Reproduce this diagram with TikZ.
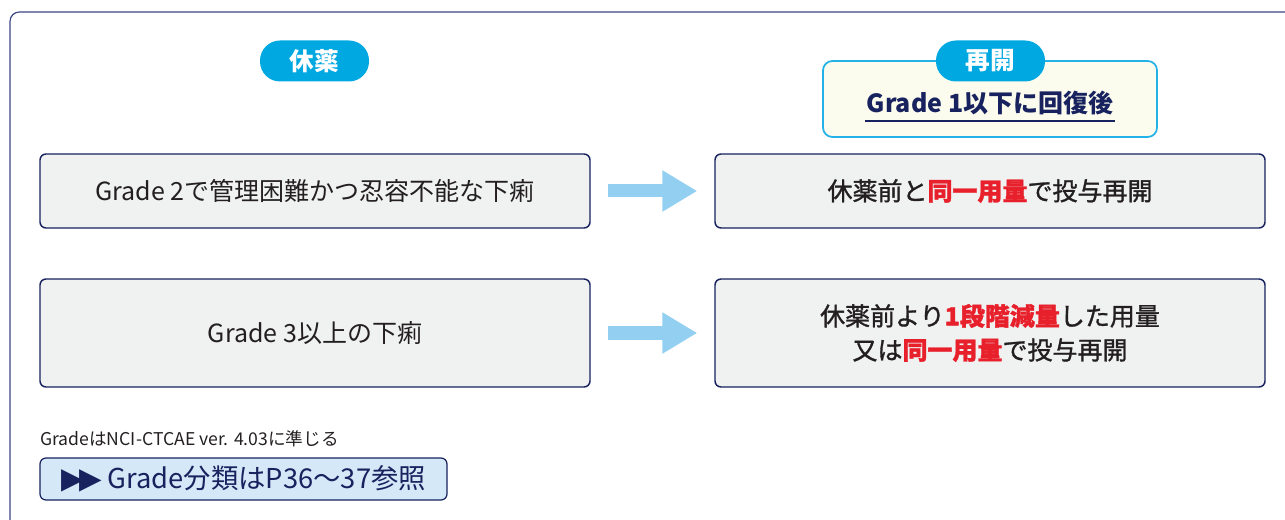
\documentclass[tikz,border=0pt]{standalone}
\usepackage{fontspec}
\setmainfont{Noto Sans CJK JP}
\newfontfamily\jpmed[FakeBold=1.3]{Noto Sans CJK JP}
\newfontfamily\symfont{DejaVu Sans}
\usetikzlibrary{arrows.meta}
\definecolor{navy}{HTML}{17225E}
\definecolor{framec}{HTML}{3C4784}
\definecolor{boxfill}{HTML}{F0F1F1}
\definecolor{txt}{HTML}{231F20}
\definecolor{pillc}{HTML}{00A8E1}
\definecolor{arrowc}{HTML}{93CFF0}
\definecolor{ybord}{HTML}{22B2E7}
\definecolor{yfill}{HTML}{FBFCEE}
\definecolor{redc}{HTML}{E8202B}
\definecolor{btnfill}{HTML}{D4E8F8}
\tikzset{
  mainbox/.style={draw=navy, line width=1.1pt, fill=boxfill, rounded corners=4.5pt,
    minimum width=412.5pt, text=txt, align=center, inner sep=0pt,
    font=\fontsize{18.75}{25.5}\selectfont},
  pill/.style={fill=pillc, text=white, rounded corners=15pt, minimum width=81.75pt,
    minimum height=30.75pt, inner sep=0pt, font=\fontsize{18.5}{20}\selectfont\bfseries},
  bigarrow/.style={draw=arrowc, line width=9.75pt,
    -{Triangle[width=29.25pt,length=26.25pt]}, shorten <=12.75pt, shorten >=12.75pt}
}
\newcommand{\redb}[1]{{\bfseries\color{redc}#1}}
\begin{document}
\begin{tikzpicture}[x=0.75pt,y=-0.75pt]
\useasboundingbox (0,0) rectangle (1285,520);
% outer frame
\draw[framec, line width=0.9pt, rounded corners=7pt] (10,530) -- (10,12) -- (1295,12);
% pills and header box
\node[draw=ybord, line width=1.3pt, fill=yfill, rounded corners=7pt,
  minimum width=250.5pt, minimum height=57pt, inner sep=0pt] (ybox) at (990,99) {};
\node[pill] (p1) at (314.5,61) {休薬};
\node[pill] (p2) at (990.5,61) {再開};
\node[text=navy, font=\fontsize{18.75}{20}\selectfont\bfseries, inner sep=0pt] (g1) at (990,103) {Grade 1以下に回復後};
\draw[navy, line width=1.9pt] (865,121) -- (1115,121);
% boxes
\node[mainbox, minimum height=55.5pt] (b1) at (315,191) {Grade 2で管理困難かつ忍容不能な下痢};
\node[mainbox, minimum height=55.5pt] (r1) at (990,191) {\jpmed 休薬前と\redb{同一用量}で投与再開};
\node[mainbox, minimum height=81pt] (b2) at (315,333) {Grade 3以上の下痢};
\node[mainbox, minimum height=81pt] (r2) at (990,333) {\jpmed 休薬前より\redb{1段階減量}した用量\\\jpmed 又は\redb{同一用量}で投与再開};
% arrows
\draw[bigarrow] (b1) -- (r1);
\draw[bigarrow] (b2) -- (r2);
% footnote
\node[anchor=west, text=txt, inner sep=0pt, font=\fontsize{13.2}{15}\selectfont] (fn) at (40,439) {GradeはNCI-CTCAE ver. 4.03に準じる};
\node[draw=navy, line width=0.9pt, fill=btnfill, rounded corners=4.5pt, minimum width=305.25pt,
  minimum height=31.5pt, inner sep=0pt, text=navy, font=\fontsize{20.5}{22}\selectfont] (btn) at (243.5,479)
  {{\symfont\fontsize{22}{22}\selectfont ▶\kern-3.5pt▶}\ Grade分類はP36〜37参照};
\end{tikzpicture}
\end{document}
